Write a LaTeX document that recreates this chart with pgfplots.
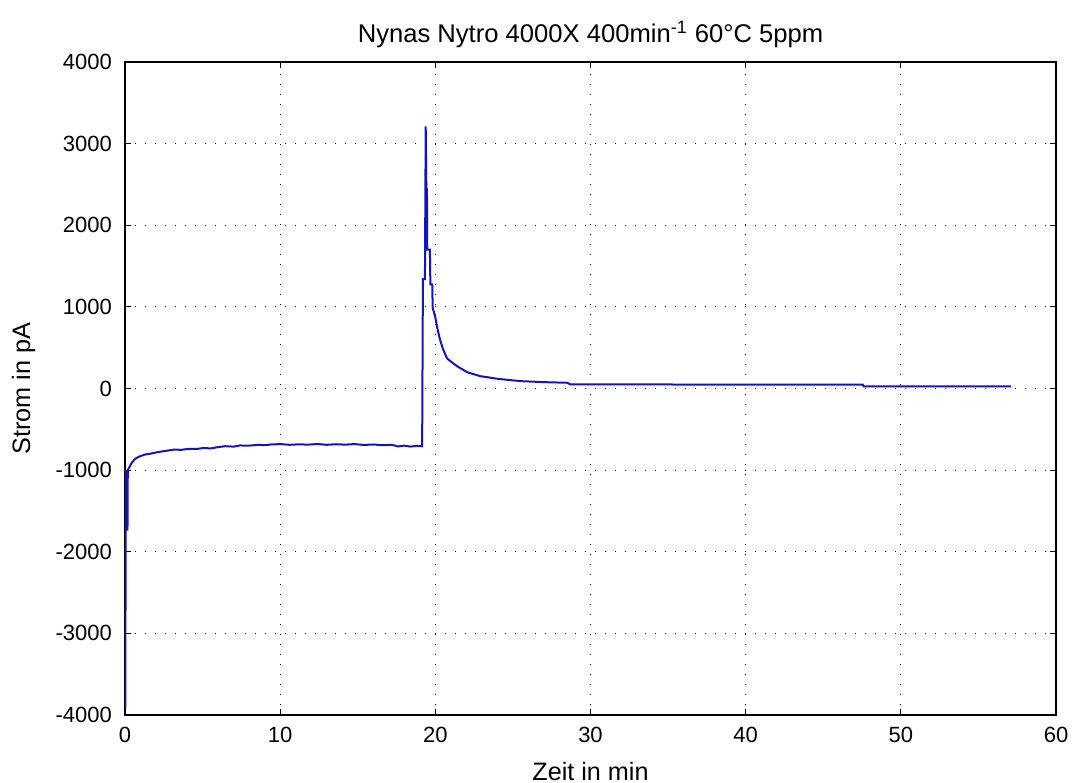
\documentclass[border=0pt]{standalone}
\usepackage{fontspec}
\setmainfont{Liberation Sans}
\usepackage{pgfplots}
\pgfplotsset{compat=1.18}
\definecolor{lineblue}{RGB}{20,20,190}
\begin{document}
\begin{tikzpicture}
\begin{axis}[name=ax, scale only axis, width=465.5pt, height=326.5pt,
  xmin=0, xmax=60, ymin=-4000, ymax=4000,
  xtick={0,10,...,60}, ytick={-4000,-3000,...,4000},
  grid=major,
  major grid style={black, line width=0.5pt, dash pattern=on 0.6pt off 4.4pt},
  tick align=inside, major tick length=3pt,
  tick style={black, line width=0.5pt},
  axis line style={black, line width=0.6pt},
  /pgf/number format/assume math mode=true,
  /pgf/number format/1000 sep={},
  ticklabel style={font=\fontsize{11}{13}\selectfont},
  xticklabel style={yshift=-2.5pt},
  yticklabel style={xshift=-3pt},
  title={Nynas Nytro 4000X 400min\textsuperscript{-1} 60°C 5ppm},
  title style={font=\fontsize{12.8}{15}\selectfont, at={(axis description cs:0.5,1.0122)}, anchor=base},
  xlabel={Zeit in min},
  xlabel style={font=\fontsize{12.6}{15}\selectfont, at={(axis description cs:0.5,-0.1)}, anchor=base},
  ylabel={Strom in pA},
  ylabel style={font=\fontsize{12.6}{15}\selectfont, at={(axis description cs:-0.102,0.5)}, anchor=base, rotate=0},
]
\addplot[lineblue, line width=1pt] coordinates {
(0.02,-3920) (0.05,-1000) (0.10,-1730) (0.16,-1730) (0.18,-1000)
(0.32,-952) (0.45,-905) (0.65,-862) (0.9,-835) (1.29,-809) (1.6,-800)
(2.1,-780) (2.6,-765) (3.2,-748) (3.6,-752) (4.0,-742) (4.7,-739)
(5.1,-728) (5.5,-735) (6.0,-718) (6.45,-707) (7.0,-712) (7.4,-698)
(8.0,-700) (8.6,-690) (9.0,-695) (9.5,-684) (10.1,-682) (10.6,-690)
(11.2,-684) (11.8,-688) (12.4,-680) (13.0,-690) (13.6,-683) (14.2,-688)
(14.8,-681) (15.4,-692) (16.0,-686) (16.6,-695) (17.2,-690) (17.6,-710)
(18.0,-700) (18.4,-712) (18.8,-703) (19.15,-708)
(19.2,1340) (19.33,1340) (19.38,3210) (19.42,2440) (19.46,2440)
(19.48,1700) (19.65,1700) (19.68,1275) (19.80,1275) (19.83,990)
(20.0,870) (20.15,720) (20.3,600) (20.5,480) (20.75,370) (20.97,335)
(21.4,273) (22.05,200) (22.9,151) (24.0,119) (25.5,90) (27,78)
(28.5,70) (28.7,50) (35,49) (40,47) (47.55,46) (47.6,25) (57.1,25)
};
\end{axis}
\pgfresetboundingbox
\path[use as bounding box] ([shift={(-62.5pt,-34pt)}]ax.south west) rectangle ([shift={(8pt,31pt)}]ax.north east);
\end{tikzpicture}
\end{document}
